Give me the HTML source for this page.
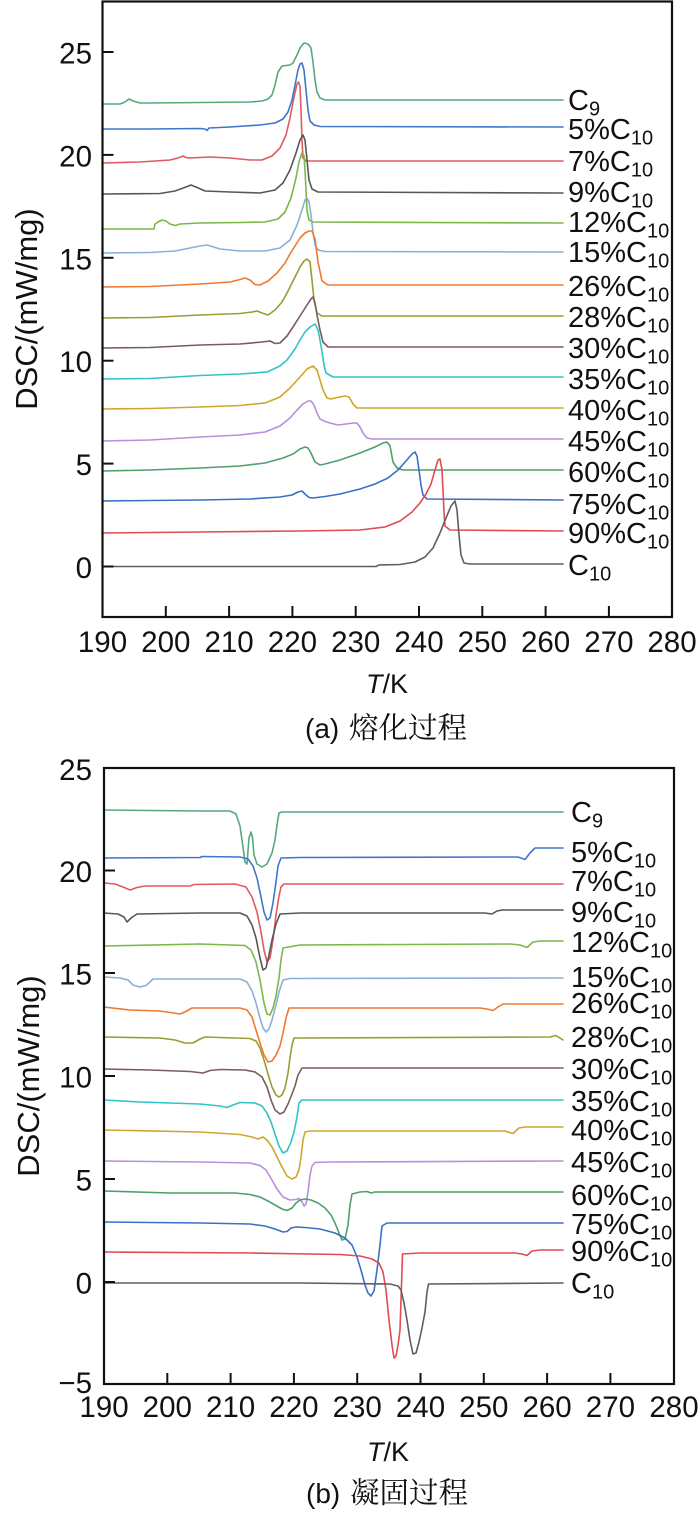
<!DOCTYPE html>
<html><head><meta charset="utf-8"><style>
html,body{margin:0;padding:0;background:#fff;}
svg{display:block;}
text{font-family:"Liberation Sans",Arial,sans-serif;fill:#111;}
.cj{font-family:"Noto Serif CJK SC","Noto Sans CJK SC",serif;}
.c path{fill:none;stroke-width:1.6;stroke-linejoin:round;stroke-linecap:round;}
.lab{font-size:29px;}
.tk{font-size:29.5px;}
</style></head><body>
<svg width="700" height="1516" viewBox="0 0 700 1516" xmlns="http://www.w3.org/2000/svg">
<rect width="700" height="1516" fill="#fff"/>

<!-- ================= PANEL A ================= -->
<g class="c">
<path stroke="#57a97a" d="M103,104 L120,104 L125,102 L129,99 L133,101 L140,103 L150,103 L200,102.5 L250,102 L262,101 L268,99 L272,95 L275,85 L278,72 L282,66 L290,65 L293,63 L297,55 L300,48 L304,43 L308,44 L311,48 L313,62 L315,80 L317,92 L320,98 L325,100 L563,100"/>
<path stroke="#3f76cc" d="M103,129 L150,129 L200,128.5 L205,129 L207,130.5 L209,128 L230,127 L260,125 L275,123 L283,119 L288,112 L292,100 L295,85 L298,70 L300,64 L302,63 L304,70 L306,90 L308,110 L310,121 L314,125 L320,126.5 L563,127"/>
<path stroke="#e05a60" d="M103,163 L140,162 L170,160 L178,158 L183,156 L186,157.5 L190,158 L210,157 L230,158 L250,160 L262,160 L272,156 L280,148 L286,135 L290,118 L294,97 L297,84 L298.5,82 L300,86 L301,110 L302,140 L303,158 L306,161 L563,161"/>
<path stroke="#575757" d="M103,194 L160,193.5 L175,191 L186,187 L191,185 L196,187 L205,191 L230,192 L260,193 L275,190 L283,183 L290,170 L296,153 L300,140 L303,135 L305,140 L307,160 L309,180 L312,189 L318,192 L563,193"/>
<path stroke="#7ab84a" d="M103,229 L154,229 L155,224 L158,222 L162,220 L166,221 L170,224 L175,225.5 L180,224 L200,223 L240,222.5 L265,222 L278,219 L285,212 L291,198 L296,178 L299,162 L302,153 L304,156 L305,170 L306,190 L307,210 L309,220 L313,222 L563,223"/>
<path stroke="#8ab0d8" d="M103,253 L150,252.5 L175,251 L190,248 L200,246 L207,245 L212,246.5 L220,249 L240,251 L265,251 L280,248 L290,240 L297,225 L302,210 L305,200 L307,198 L309,202 L311,215 L313,232 L315,245 L318,250 L325,251.5 L563,252"/>
<path stroke="#ee7a30" d="M103,287 L150,286.5 L200,284 L230,282 L240,279.5 L245,278 L250,280 L255,284.5 L260,285 L268,281 L277,273 L285,263 L290,254 L295,246 L300,238 L305,233 L309,231 L312,231 L315,239 L318,262 L322,281 L328,285 L563,285"/>
<path stroke="#9c9c30" d="M103,318 L150,317.5 L200,315 L240,313.5 L252,312 L257,311 L262,313 L268,315 L275,310 L282,302 L287,293 L293,281 L300,267 L304,261 L307,259 L310,262 L312,280 L314,300 L317,313 L322,316 L563,316"/>
<path stroke="#7a5c5c" d="M103,348 L150,347.5 L200,345 L240,344 L262,342 L270,341 L275,343.5 L280,343 L287,336 L293,327 L300,316 L307,305 L311,299 L313,297 L315,303 L317,315 L320,330 L323,342 L328,347 L563,347"/>
<path stroke="#30c4c8" d="M103,379 L150,378.5 L200,375.5 L240,374 L267,372 L280,366 L287,360 L295,349 L300,340 L305,332 L310,327 L315,324 L318,330 L320,340 L322,352 L324,365 L326,373 L333,377 L563,377"/>
<path stroke="#cfa62a" d="M103,409 L150,408.5 L200,407 L240,405.5 L265,403 L280,397 L290,388 L300,377 L307,369 L313,366 L317,370 L320,380 L323,390 L327,398 L331,399 L337,397.5 L345,396 L349,397 L353,404 L357,408 L563,408"/>
<path stroke="#b98edb" d="M103,441 L150,440 L200,437 L240,435 L265,432 L280,426 L290,418 L297,410 L303,404 L308,401 L311,401 L314,405 L317,413 L320,419 L324,421 L330,423 L338,425 L346,424 L353,423 L357,423 L360,427 L363,433 L367,438 L372,439 L563,439"/>
<path stroke="#4f9f6d" d="M103,471 L150,470 L200,468 L240,466 L265,463 L283,458 L293,454 L300,449 L305,447 L308,448 L311,453 L315,462 L320,465 L325,464 L340,460 L360,453 L375,447 L383,443 L387,442 L390,446 L393,462 L397,468 L403,470 L563,470"/>
<path stroke="#3a70c4" d="M103,501 L150,500.5 L200,500 L250,499 L280,497 L292,495 L298,492 L302,491 L305,494 L309,497.5 L313,498 L325,496.5 L340,494 L360,489 L375,484 L388,478 L398,470 L406,461 L412,454 L415,452 L417,456 L419,470 L421,485 L423,495 L427,499 L563,500"/>
<path stroke="#e04c50" d="M103,533 L200,532 L300,531 L360,530 L385,527 L400,521 L412,512 L420,503 L426,494 L431,484 L435,470 L438,460 L440,459 L442,470 L443,490 L444,512 L445,526 L450,530 L563,531"/>
<path stroke="#5e5e5e" d="M103,566.5 L300,566.5 L376,566.5 L379,565 L400,564.5 L415,562 L425,557 L433,548 L440,533 L446,518 L451,506 L455,501 L457,510 L459,535 L461,555 L464,563 L470,564 L563,564"/>
</g>

<!-- frame A -->
<rect x="102.5" y="1.5" width="569.5" height="615.5" fill="none" stroke="#111" stroke-width="2.2"/>
<g stroke="#111" stroke-width="2">
<line x1="102.5" y1="566.5" x2="113.5" y2="566.5"/>
<line x1="102.5" y1="463.6" x2="113.5" y2="463.6"/>
<line x1="102.5" y1="360.7" x2="113.5" y2="360.7"/>
<line x1="102.5" y1="257.8" x2="113.5" y2="257.8"/>
<line x1="102.5" y1="154.9" x2="113.5" y2="154.9"/>
<line x1="102.5" y1="52" x2="113.5" y2="52"/>
<line x1="165.8" y1="617" x2="165.8" y2="606"/>
<line x1="229.1" y1="617" x2="229.1" y2="606"/>
<line x1="292.4" y1="617" x2="292.4" y2="606"/>
<line x1="355.7" y1="617" x2="355.7" y2="606"/>
<line x1="419" y1="617" x2="419" y2="606"/>
<line x1="482.3" y1="617" x2="482.3" y2="606"/>
<line x1="545.6" y1="617" x2="545.6" y2="606"/>
<line x1="608.9" y1="617" x2="608.9" y2="606"/>
</g>
<g class="tk" text-anchor="end">
<text x="92" y="578">0</text>
<text x="92" y="475">5</text>
<text x="92" y="372">10</text>
<text x="92" y="269.5">15</text>
<text x="92" y="166.5">20</text>
<text x="92" y="63.5">25</text>
</g>
<g class="tk" text-anchor="middle">
<text x="102.5" y="652">190</text>
<text x="165.8" y="652">200</text>
<text x="229.1" y="652">210</text>
<text x="292.4" y="652">220</text>
<text x="355.7" y="652">230</text>
<text x="419" y="652">240</text>
<text x="482.3" y="652">250</text>
<text x="545.6" y="652">260</text>
<text x="608.9" y="652">270</text>
<text x="672" y="652">280</text>
</g>
<text x="387" y="693" text-anchor="middle" font-size="27"><tspan font-style="italic">T</tspan>/K</text>
<text transform="translate(37,309) rotate(-90)" text-anchor="middle" font-size="31">DSC/(mW/mg)</text>
<text x="305" y="738" font-size="28">(a)</text>
<text x="349" y="738" font-size="29.5" class="cj">熔化过程</text>

<g class="lab">
<text x="568" y="110">C<tspan font-size="20" dy="5.5">9</tspan></text>
<text x="568" y="139">5%C<tspan font-size="20" dy="5.5">10</tspan></text>
<text x="568" y="171">7%C<tspan font-size="20" dy="5.5">10</tspan></text>
<text x="568" y="202">9%C<tspan font-size="20" dy="5.5">10</tspan></text>
<text x="568" y="232">12%C<tspan font-size="20" dy="5.5">10</tspan></text>
<text x="568" y="262">15%C<tspan font-size="20" dy="5.5">10</tspan></text>
<text x="568" y="296">26%C<tspan font-size="20" dy="5.5">10</tspan></text>
<text x="568" y="327">28%C<tspan font-size="20" dy="5.5">10</tspan></text>
<text x="568" y="358">30%C<tspan font-size="20" dy="5.5">10</tspan></text>
<text x="568" y="389">35%C<tspan font-size="20" dy="5.5">10</tspan></text>
<text x="568" y="420">40%C<tspan font-size="20" dy="5.5">10</tspan></text>
<text x="568" y="451">45%C<tspan font-size="20" dy="5.5">10</tspan></text>
<text x="568" y="482">60%C<tspan font-size="20" dy="5.5">10</tspan></text>
<text x="568" y="514">75%C<tspan font-size="20" dy="5.5">10</tspan></text>
<text x="568" y="543">90%C<tspan font-size="20" dy="5.5">10</tspan></text>
<text x="568" y="575">C<tspan font-size="20" dy="5.5">10</tspan></text>
</g>

<!-- ================= PANEL B ================= -->
<g class="c">
<path stroke="#57a97a" d="M104,810 L150,810.5 L200,811 L230,811 L236,814 L240,826 L243,847 L245,862 L247,864 L249,838 L251,832 L252.5,838 L254,855 L257,864 L262,867 L267,864 L272,853 L275,840 L277,825 L279,813 L282,812 L563,812"/>
<path stroke="#3f76cc" d="M104,858 L200,857.5 L202,856.5 L240,857 L248,859 L253,866 L257,878 L261,897 L264,912 L267,920 L270,918 L273,903 L276,882 L278,866 L281,858 L300,857.5 L510,857 L518,857 L525,859.5 L530,853 L535,848 L563,848"/>
<path stroke="#e05a60" d="M104,883 L115,884 L123,887 L130,890 L137,887.5 L145,886 L190,886 L194,884.5 L235,884 L246,887 L252,897 L257,912 L261,932 L264,950 L267,962 L270,958 L273,940 L276,915 L279,896 L281,887 L284,884 L563,884"/>
<path stroke="#575757" d="M104,913 L118,914 L124,917 L127,922 L131,918 L137,914 L200,913 L240,913 L247,916 L252,925 L256,938 L260,958 L263,970 L266,968 L269,955 L272,940 L276,924 L280,914 L300,913 L485,913 L492,914 L497,911 L502,910 L563,910"/>
<path stroke="#7ab84a" d="M104,946 L200,944 L245,945.5 L251,950 L256,962 L260,980 L264,1003 L267,1014 L270,1015 L273,1008 L276,996 L279,978 L281,960 L283,948 L300,945 L510,944 L520,945 L527,947.5 L533,942 L540,941 L563,941"/>
<path stroke="#8ab0d8" d="M104,977 L120,978 L128,980 L133,985 L140,987 L146,985.5 L150,982 L153,979 L200,979 L240,979 L247,982 L252,991 L256,1003 L260,1018 L263,1028 L266,1032 L269,1029 L272,1020 L276,1005 L279,992 L283,980 L290,978.5 L563,978"/>
<path stroke="#ee7a30" d="M104,1007 L130,1010 L160,1011 L180,1014 L185,1012 L192,1008 L240,1008 L247,1010 L252,1017 L256,1030 L260,1043 L264,1055 L268,1062 L272,1061 L276,1055 L280,1046 L283,1033 L286,1018 L289,1008 L300,1008 L480,1008 L487,1009 L493,1010.5 L498,1007 L503,1004 L563,1004"/>
<path stroke="#9c9c30" d="M104,1037 L160,1038 L175,1040 L185,1043 L193,1043 L200,1039 L205,1037 L250,1038.5 L256,1041 L260,1048 L264,1060 L268,1074 L272,1087 L276,1095 L279,1097 L282,1095 L285,1088 L288,1073 L290,1058 L292,1045 L294,1038 L300,1038 L550,1037 L556,1035.5 L563,1040"/>
<path stroke="#7a5c5c" d="M104,1069 L150,1070 L190,1071.5 L203,1073 L210,1070.5 L220,1069.5 L245,1070 L255,1072 L262,1077 L267,1087 L271,1100 L275,1110 L280,1114 L284,1112 L288,1104 L292,1094 L295,1086 L298,1075 L302,1068 L563,1068"/>
<path stroke="#30c4c8" d="M104,1100 L140,1102 L200,1104 L220,1106 L227,1107.5 L233,1105 L240,1102.5 L255,1103 L262,1106 L267,1113 L271,1122 L275,1134 L279,1146 L283,1153 L287,1151 L291,1142 L294,1132 L297,1117 L299,1103 L302,1100 L563,1100"/>
<path stroke="#cfa62a" d="M104,1130 L200,1132 L240,1134.5 L252,1137 L258,1139 L263,1137 L267,1140 L272,1147 L277,1157 L282,1167 L287,1176 L292,1179 L296,1177 L299,1170 L301,1157 L303,1140 L305,1132 L310,1131 L505,1131 L513,1133.5 L519,1128 L525,1127 L563,1127"/>
<path stroke="#b98edb" d="M104,1161 L200,1162 L250,1163 L260,1165.5 L266,1170 L272,1180 L277,1189 L283,1197 L290,1200 L296,1199.5 L299,1198.5 L302,1202 L304,1206 L306,1204 L308,1192 L310,1175 L312,1166 L315,1162.5 L330,1162 L563,1161"/>
<path stroke="#4f9f6d" d="M104,1191 L170,1193 L235,1193 L250,1194.5 L260,1197 L268,1201 L275,1205 L282,1209 L287,1210.5 L292,1208 L296,1203 L300,1200 L305,1199 L311,1200 L318,1203 L325,1208 L331,1215 L335,1223 L339,1233 L342,1240 L345,1239 L348,1225 L350,1205 L352,1194 L360,1192 L367,1191.5 L371,1193 L375,1192 L563,1192"/>
<path stroke="#3a70c4" d="M104,1222 L200,1223 L250,1224 L265,1226 L275,1229 L283,1232 L287,1231.5 L291,1228 L296,1227 L305,1227.5 L320,1229 L335,1233 L345,1238 L352,1245 L357,1257 L361,1270 L365,1285 L368,1293 L371,1296 L374,1291 L377,1270 L380,1245 L382,1226 L387,1223 L563,1223"/>
<path stroke="#e04c50" d="M104,1252 L250,1253 L340,1254.5 L360,1256 L372,1259 L379,1263 L383,1272 L386,1290 L389,1320 L392,1345 L394,1358 L396,1356 L398,1345 L400,1330 L401,1300 L402,1270 L402.5,1254 L420,1253 L515,1253 L522,1254 L527,1255.5 L532,1251 L540,1250 L563,1250"/>
<path stroke="#5e5e5e" d="M104,1283 L300,1283 L390,1284 L398,1286 L401,1290 L404,1303 L407,1320 L410,1340 L413,1354 L416,1353 L419,1342 L422,1328 L425,1312 L427,1292 L428.5,1284 L563,1283"/>
</g>

<!-- frame B -->
<rect x="104" y="768" width="570" height="616" fill="none" stroke="#111" stroke-width="2.2"/>
<g stroke="#111" stroke-width="2">
<line x1="104" y1="870.5" x2="115" y2="870.5"/>
<line x1="104" y1="973" x2="115" y2="973"/>
<line x1="104" y1="1076" x2="115" y2="1076"/>
<line x1="104" y1="1179" x2="115" y2="1179"/>
<line x1="104" y1="1282" x2="115" y2="1282"/>
<line x1="167.3" y1="1384" x2="167.3" y2="1373"/>
<line x1="230.6" y1="1384" x2="230.6" y2="1373"/>
<line x1="293.9" y1="1384" x2="293.9" y2="1373"/>
<line x1="357.2" y1="1384" x2="357.2" y2="1373"/>
<line x1="420.5" y1="1384" x2="420.5" y2="1373"/>
<line x1="483.8" y1="1384" x2="483.8" y2="1373"/>
<line x1="547.1" y1="1384" x2="547.1" y2="1373"/>
<line x1="610.4" y1="1384" x2="610.4" y2="1373"/>
</g>
<g class="tk" text-anchor="end">
<text x="92" y="780">25</text>
<text x="92" y="882">20</text>
<text x="92" y="984.5">15</text>
<text x="92" y="1087.5">10</text>
<text x="92" y="1190.5">5</text>
<text x="92" y="1293.5">0</text>
<text x="92" y="1393">−5</text>
</g>
<g class="tk" text-anchor="middle">
<text x="104" y="1417">190</text>
<text x="167.3" y="1417">200</text>
<text x="230.6" y="1417">210</text>
<text x="293.9" y="1417">220</text>
<text x="357.2" y="1417">230</text>
<text x="420.5" y="1417">240</text>
<text x="483.8" y="1417">250</text>
<text x="547.1" y="1417">260</text>
<text x="610.4" y="1417">270</text>
<text x="674" y="1417">280</text>
</g>
<text x="388" y="1461" text-anchor="middle" font-size="27"><tspan font-style="italic">T</tspan>/K</text>
<text transform="translate(39,1076) rotate(-90)" text-anchor="middle" font-size="31">DSC/(mW/mg)</text>
<text x="306" y="1503" font-size="28">(b)</text>
<text x="350" y="1503" font-size="29.5" class="cj">凝固过程</text>

<g class="lab">
<text x="571" y="822">C<tspan font-size="20" dy="5.5">9</tspan></text>
<text x="571" y="862">5%C<tspan font-size="20" dy="5.5">10</tspan></text>
<text x="571" y="891">7%C<tspan font-size="20" dy="5.5">10</tspan></text>
<text x="571" y="922">9%C<tspan font-size="20" dy="5.5">10</tspan></text>
<text x="571" y="952">12%C<tspan font-size="20" dy="5.5">10</tspan></text>
<text x="571" y="987">15%C<tspan font-size="20" dy="5.5">10</tspan></text>
<text x="571" y="1013">26%C<tspan font-size="20" dy="5.5">10</tspan></text>
<text x="571" y="1047">28%C<tspan font-size="20" dy="5.5">10</tspan></text>
<text x="571" y="1079">30%C<tspan font-size="20" dy="5.5">10</tspan></text>
<text x="571" y="1111">35%C<tspan font-size="20" dy="5.5">10</tspan></text>
<text x="571" y="1140">40%C<tspan font-size="20" dy="5.5">10</tspan></text>
<text x="571" y="1172">45%C<tspan font-size="20" dy="5.5">10</tspan></text>
<text x="571" y="1205">60%C<tspan font-size="20" dy="5.5">10</tspan></text>
<text x="571" y="1234">75%C<tspan font-size="20" dy="5.5">10</tspan></text>
<text x="571" y="1261">90%C<tspan font-size="20" dy="5.5">10</tspan></text>
<text x="571" y="1293">C<tspan font-size="20" dy="5.5">10</tspan></text>
</g>
</svg>
</body></html>
